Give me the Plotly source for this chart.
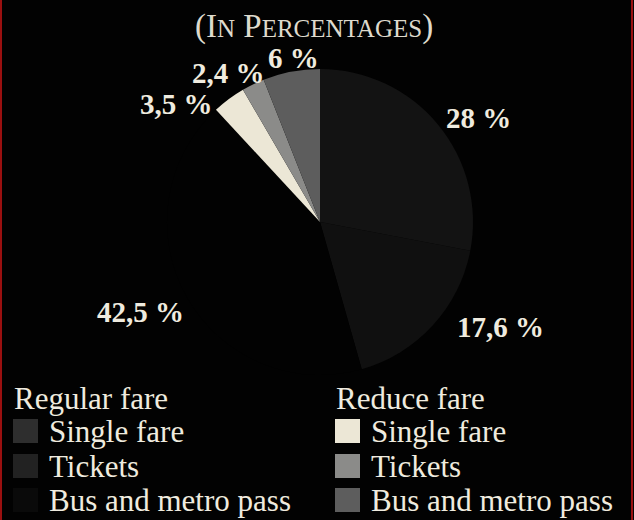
import plotly.graph_objects as go

# Fare categories and shares (percent), clockwise from 12 o'clock
groups = ["Regular fare", "Regular fare", "Regular fare",
          "Reduce fare", "Reduce fare", "Reduce fare"]
fare_types = ["Single fare", "Tickets", "Bus and metro pass",
              "Single fare", "Tickets", "Bus and metro pass"]
shares = [28.0, 17.6, 42.5, 3.5, 2.4, 6.0]

BG = "#020202"
slice_colors = ["#131313", "#101010", BG,
                "#ece7d6", "#8b8b89", "#5d5d5d"]
swatch_colors = ["#2e2e2e", "#222222", "#0a0a0a",
                 "#ece7d6", "#8b8b89", "#5d5d5d"]

W, H = 634, 520
TEXT = "#efebdf"
SERIF = "Liberation Serif, Times New Roman, serif"

# pie placement (pixels)
cx, cy, r = 320, 222, 153


def px(x):
    return x / W


def py(y):
    return 1 - y / H


def pct_text(v):
    return f"{v:g}".replace(".", ",") + " %"


fig = go.Figure(go.Pie(
    labels=[f"{g} – {t}" for g, t in zip(groups, fare_types)],
    values=shares,
    sort=False,
    direction="clockwise",
    rotation=0,
    marker=dict(colors=slice_colors, line=dict(width=0)),
    textinfo="none",
    hoverinfo="label+value",
    showlegend=False,
    domain=dict(x=[px(cx - r), px(cx + r)], y=[py(cy + r), py(cy - r)]),
))

annotations = []

# title in small capitals
annotations.append(dict(
    x=px(314), y=py(26), xref="paper", yref="paper",
    xanchor="center", yanchor="middle", showarrow=False,
    text=("(I<span style='font-size:25px'>N</span> "
          "P<span style='font-size:25px'>ERCENTAGES</span>)"),
    font=dict(family=SERIF, size=33, color="#dedacd"),
))

# value labels around the pie
label_pos = [(478, 118), (500, 327), (140, 312), (176, 104), (228, 73), (293, 58)]
for v, (lx, ly) in zip(shares, label_pos):
    annotations.append(dict(
        x=px(lx), y=py(ly), xref="paper", yref="paper",
        xanchor="center", yanchor="middle", showarrow=False,
        text=f"<b>{pct_text(v)}</b>",
        font=dict(family=SERIF, size=29, color=TEXT),
    ))

# two-column legend
shapes = []
col_x = {"Regular fare": 13, "Reduce fare": 335}
row_y = [431, 466, 500]
header_y = 398
sw_w, sw_h = 25, 24
for g in ["Regular fare", "Reduce fare"]:
    x0 = col_x[g]
    annotations.append(dict(
        x=px(x0 - 1), y=py(header_y), xref="paper", yref="paper",
        xanchor="left", yanchor="middle", showarrow=False,
        text=g, font=dict(family=SERIF, size=31, color=TEXT),
    ))
    idx = [i for i, gg in enumerate(groups) if gg == g]
    for row, i in enumerate(idx):
        yc = row_y[row]
        shapes.append(dict(
            type="rect", xref="paper", yref="paper",
            x0=px(x0), x1=px(x0 + sw_w),
            y0=py(yc - sw_h / 2), y1=py(yc + sw_h / 2),
            fillcolor=swatch_colors[i], line=dict(width=0),
        ))
        annotations.append(dict(
            x=px(x0 + sw_w + 9), y=py(yc), xref="paper", yref="paper",
            xanchor="left", yanchor="middle", showarrow=False,
            text=fare_types[i], font=dict(family=SERIF, size=31, color=TEXT),
        ))

# thin red edge on both sides of the panel
for ex in (1, W - 2):
    shapes.append(dict(
        type="line", xref="paper", yref="paper",
        x0=px(ex), x1=px(ex), y0=0, y1=1,
        line=dict(color="#9a1010", width=2),
    ))

fig.update_layout(
    width=W, height=H,
    margin=dict(l=0, r=0, t=0, b=0),
    paper_bgcolor=BG, plot_bgcolor=BG,
    annotations=annotations,
    shapes=shapes,
)

fig.write_html("out.html")
